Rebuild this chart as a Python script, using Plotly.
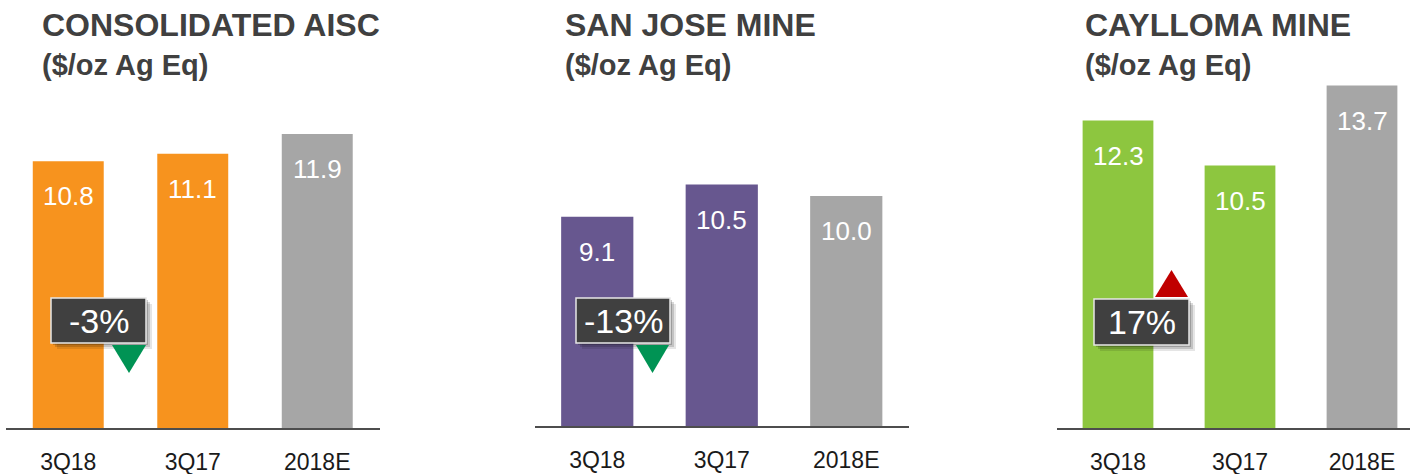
import plotly.graph_objects as go

W, H = 1410, 474

categories = ["3Q18", "3Q17", "2018E"]
titles = ["CONSOLIDATED AISC", "SAN JOSE MINE", "CAYLLOMA MINE"]
subtitle = "($/oz Ag Eq)"
consolidated = [10.8, 11.1, 11.9]
san_jose = [9.1, 10.5, 10.0]
caylloma = [12.3, 10.5, 13.7]
changes = ["-3%", "-13%", "17%"]
directions = ["down", "down", "up"]

series = [consolidated, san_jose, caylloma]
main_colors = ["#F7931E", "#67578F", "#8DC63F"]
gray = "#A6A6A6"
dark = "#404040"


def px(x):
    return x / W


def py(y):
    return 1 - y / H


# panel geometry (pixels): x domain left/right, category spacing, baseline y, px per unit
panels = [
    dict(x0=6, x1=379.5, step=124.5, base=428, scale=24.7, bw=0.57, tx=42),
    dict(x0=535, x1=908.5, step=124.5, base=426, scale=23.0, bw=0.58, tx=565),
    dict(x0=1057, x1=1410, step=122, base=428, scale=25.0, bw=0.58, tx=1085),
]
YMAX = 14

fig = go.Figure()
annotations = []
shapes = []

for i, (vals, p) in enumerate(zip(series, panels)):
    n = "" if i == 0 else str(i + 1)
    xa, ya = "x" + n, "y" + n
    colors = [main_colors[i], main_colors[i], gray]
    fig.add_trace(go.Bar(
        x=categories, y=vals, marker=dict(color=colors, line=dict(width=0)),
        width=p["bw"], xaxis=xa, yaxis=ya, hoverinfo="x+y", showlegend=False,
    ))
    top_px = p["base"] - p["scale"] * YMAX
    right_range = (p["x1"] - p["x0"]) / p["step"] - 0.5
    fig.update_layout(**{
        ("xaxis" + n): dict(
            domain=[px(p["x0"]), px(p["x1"])], range=[-0.5, right_range],
            type="category", anchor=ya, showline=True, linecolor="#4d4d4d",
            linewidth=2, showgrid=False, ticks="", ticklabelstandoff=12,
            tickfont=dict(family="Liberation Sans, Arial", size=23, color="#1a1a1a"),
            fixedrange=True,
        ),
        ("yaxis" + n): dict(
            domain=[py(p["base"]), py(top_px)], range=[0, YMAX], anchor=xa,
            visible=False, showgrid=False, fixedrange=True,
        ),
    })
    for c, v in zip(categories, vals):
        annotations.append(dict(
            x=c, y=v, xref=xa, yref=ya, text=f"{v:.1f}", showarrow=False,
            yanchor="middle", yshift=-35,
            font=dict(family="Liberation Sans, Arial", size=26, color="white"),
        ))
    annotations.append(dict(
        x=px(p["tx"] - 2), y=py(5), xref="paper", yref="paper", xanchor="left",
        yanchor="top", text=f"<b>{titles[i]}</b>", showarrow=False,
        font=dict(family="Liberation Sans, Arial", size=32, color=dark),
    ))
    annotations.append(dict(
        x=px(p["tx"] - 2), y=py(47), xref="paper", yref="paper", xanchor="left",
        yanchor="top", text=f"<b>{subtitle}</b>", showarrow=False,
        font=dict(family="Liberation Sans, Arial", size=29, color=dark),
    ))

# badges (pixel boxes) and arrow triangles
badges = [
    dict(box=(51, 298, 146, 343), tri=(112, 146, 345, 373)),
    dict(box=(576, 298, 670, 343), tri=(636, 669, 345, 373)),
    dict(box=(1094, 299, 1189, 345), tri=(1155, 1188, 297, 270)),
]
for b, label, d in zip(badges, changes, directions):
    x0, y0, x1, y1 = b["box"]
    # soft shadow
    for k, op in [(6, 0.10), (4, 0.15), (2, 0.2)]:
        shapes.append(dict(type="rect", xref="paper", yref="paper",
                           x0=px(x0 + k), x1=px(x1 + k), y0=py(y0 + k), y1=py(y1 + k),
                           fillcolor="#000000", opacity=op, line=dict(width=0)))
    shapes.append(dict(type="rect", xref="paper", yref="paper",
                       x0=px(x0), x1=px(x1), y0=py(y0), y1=py(y1),
                       fillcolor=dark, line=dict(color="#e6e6e6", width=1.5)))
    annotations.append(dict(
        x=px((x0 + x1) / 2), y=py((y0 + y1) / 2), xref="paper", yref="paper",
        text=label, showarrow=False, xanchor="center", yanchor="middle",
        font=dict(family="Liberation Sans, Arial", size=34, color="white"),
    ))
    tx0, tx1, ty_base, ty_tip = b["tri"]
    col = "#009354" if d == "down" else "#C00000"
    xm = (tx0 + tx1) / 2
    path = (f"M {px(tx0)} {py(ty_base)} L {px(tx1)} {py(ty_base)} "
            f"L {px(xm)} {py(ty_tip)} Z")
    shapes.append(dict(type="path", xref="paper", yref="paper", path=path,
                       fillcolor=col, line=dict(width=0)))

fig.update_layout(
    width=W, height=H, margin=dict(l=0, r=0, t=0, b=0),
    paper_bgcolor="white", plot_bgcolor="white",
    annotations=annotations, shapes=shapes, bargap=0.4,
)

fig.write_html(
    "out.html",
    config={"displayModeBar": False},
    post_script="document.body.style.margin='0';document.body.style.overflow='hidden';",
)
